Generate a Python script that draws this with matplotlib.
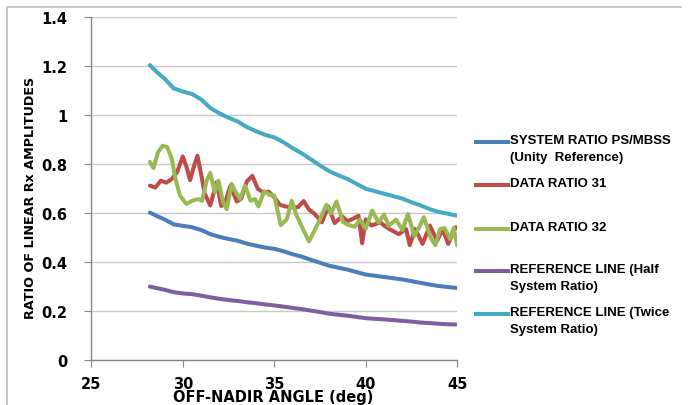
import matplotlib
matplotlib.use("Agg")
import matplotlib.pyplot as plt
from matplotlib.lines import Line2D

# values
sys_x = [28.2, 28.6, 29.0, 29.5, 30.0, 30.5, 31.0, 31.5, 32.0, 32.5, 33.0, 33.5,
         34.0, 34.5, 35.0, 35.5, 36.0, 36.5, 37.0, 37.5, 38.0, 38.5, 39.0, 39.5,
         40.0, 40.5, 41.0, 41.5, 42.0, 42.5, 43.0, 43.5, 44.0, 44.5, 45.0]
system_ratio = [0.603, 0.588, 0.575, 0.555, 0.549, 0.543, 0.532, 0.515, 0.504, 0.495,
                0.488, 0.476, 0.468, 0.460, 0.455, 0.445, 0.433, 0.423, 0.410, 0.398,
                0.386, 0.378, 0.370, 0.360, 0.350, 0.345, 0.340, 0.335, 0.330, 0.323,
                0.316, 0.309, 0.303, 0.299, 0.295]
ref_half = [0.301, 0.294, 0.288, 0.278, 0.273, 0.270, 0.264, 0.257, 0.251, 0.246,
            0.242, 0.237, 0.233, 0.228, 0.224, 0.219, 0.214, 0.209, 0.203, 0.197,
            0.190, 0.186, 0.182, 0.177, 0.172, 0.169, 0.167, 0.164, 0.161, 0.158,
            0.154, 0.152, 0.149, 0.147, 0.146]
ref_twice = [1.205, 1.175, 1.150, 1.110, 1.097, 1.087, 1.065, 1.030, 1.008, 0.990,
             0.975, 0.952, 0.935, 0.920, 0.910, 0.890, 0.866, 0.845, 0.820, 0.795,
             0.772, 0.755, 0.740, 0.720, 0.700, 0.690, 0.680, 0.670, 0.660, 0.645,
             0.632, 0.617, 0.605, 0.598, 0.590]

d31_x = [28.2, 28.5, 28.8, 29.1, 29.4, 29.7, 30.0, 30.2, 30.4, 30.6, 30.8, 31.0,
         31.2, 31.5, 31.85, 32.1, 32.3, 32.6, 32.95, 33.2, 33.5, 33.8, 34.1, 34.4,
         34.7, 35.0, 35.3, 35.6, 35.9, 36.3, 36.6, 36.9, 37.2, 37.6, 37.95, 38.3,
         38.7, 39.0, 39.3, 39.6, 39.8, 40.0, 40.3, 40.8, 41.0, 41.3, 41.8, 42.2,
         42.4, 42.7, 43.1, 43.5, 43.9, 44.2, 44.5, 44.9, 45.0]
data_31 = [0.713, 0.705, 0.733, 0.725, 0.740, 0.770, 0.832, 0.790, 0.735, 0.790,
           0.835, 0.760, 0.680, 0.632, 0.727, 0.630, 0.640, 0.713, 0.648, 0.660,
           0.730, 0.753, 0.700, 0.685, 0.688, 0.665, 0.635, 0.628, 0.625, 0.625,
           0.650, 0.615, 0.598, 0.563, 0.628, 0.560, 0.588, 0.568, 0.578, 0.590,
           0.478, 0.575, 0.550, 0.563, 0.550, 0.535, 0.515, 0.536, 0.470, 0.536,
           0.475, 0.550, 0.488, 0.536, 0.475, 0.543, 0.540]

d32_x = [28.2, 28.4, 28.65, 28.9, 29.15, 29.4, 29.6, 29.85, 30.2, 30.5, 30.85, 31.05,
         31.3, 31.5, 31.75, 31.95, 32.2, 32.4, 32.67, 32.85, 33.13, 33.4, 33.7, 33.95,
         34.13, 34.45, 34.75, 35.0, 35.35, 35.68, 35.95, 36.2, 36.6, 36.9, 37.2, 37.5,
         37.85, 38.1, 38.4, 38.75, 39.05, 39.4, 39.68, 40.0, 40.35, 40.7, 41.0, 41.25,
         41.65, 42.0, 42.3, 42.65, 42.9, 43.17, 43.55, 43.8, 44.05, 44.3, 44.6, 44.8, 45.0]
data_32 = [0.810, 0.785, 0.850, 0.876, 0.870, 0.822, 0.740, 0.672, 0.638, 0.651,
           0.658, 0.651, 0.733, 0.765, 0.686, 0.733, 0.645, 0.617, 0.720, 0.692,
           0.658, 0.713, 0.651, 0.658, 0.628, 0.690, 0.675, 0.672, 0.552, 0.575,
           0.651, 0.595, 0.530, 0.485, 0.530, 0.577, 0.635, 0.600, 0.648, 0.565,
           0.552, 0.545, 0.575, 0.538, 0.611, 0.562, 0.595, 0.549, 0.574, 0.532,
           0.597, 0.508, 0.540, 0.584, 0.500, 0.470, 0.535, 0.540, 0.495, 0.540, 0.468]

labels = ["SYSTEM RATIO PS/MBSS\n(Unity  Reference)", "DATA RATIO 31", "DATA RATIO 32",
          "REFERENCE LINE (Half\nSystem Ratio)", "REFERENCE LINE (Twice\nSystem Ratio)"]
colors = ["#4A7EBB", "#BE4B48", "#98B954", "#7D60A0", "#46AAC5"]

x_ticks = [25, 30, 35, 40, 45]
y_ticks = [0, 0.2, 0.4, 0.6, 0.8, 1.0, 1.2, 1.4]
y_tick_labels = ["0", "0.2", "0.4", "0.6", "0.8", "1", "1.2", "1.4"]

plt.rcParams['font.family'] = ['DejaVu Sans']
W, H = 688, 406
fig = plt.figure(figsize=(W / 100, H / 100), dpi=100)
ax = fig.add_axes([91.3 / W, 1 - 361.3 / H, 366 / W, 343 / H])

series = [(sys_x, system_ratio), (d31_x, data_31), (d32_x, data_32),
          (sys_x, ref_half), (sys_x, ref_twice)]
for (xs, ys), c in zip(series, colors):
    ax.plot(xs, ys, color=c, linewidth=2.9, solid_capstyle="round", solid_joinstyle="round")

ax.set_xlim(25, 45)
ax.set_ylim(0, 1.4)
ax.set_xticks(x_ticks)
ax.set_yticks(y_ticks)
ax.set_yticklabels(y_tick_labels)
for t in ax.get_xticklabels() + ax.get_yticklabels():
    t.set_fontweight("bold")
    t.set_fontsize(10.5)
ax.tick_params(axis="x", length=5, color="#868686", pad=6)
ax.tick_params(axis="y", length=5, color="#868686", pad=12)
ax.grid(True, axis="y", color="#C8C8C8", linewidth=1)
ax.set_axisbelow(True)
for s in ["top", "right"]:
    ax.spines[s].set_visible(False)
for s in ["left", "bottom"]:
    ax.spines[s].set_color("#868686")
    ax.spines[s].set_linewidth(1)

fig.text(273 / W, 1 - 398 / H, "OFF-NADIR ANGLE (deg)", ha="center", va="center",
         fontsize=10.5, fontweight="bold")
fig.text(31 / W, 1 - 198 / H, "RATIO OF LINEAR Rx AMPLITUDES", ha="center", va="center",
         rotation=90, fontsize=9.2, fontweight="bold")

# legend drawn by hand so the handles sit on the first text line
leg_y = [143, 186, 230, 272, 315]
for lab, c, y in zip(labels, colors, leg_y):
    fig.lines.append(Line2D([476 / W, 508 / W], [1 - y / H, 1 - y / H], color=c,
                            linewidth=2.9, transform=fig.transFigure))
    fig.text(510 / W, 1 - (y - 8) / H, lab, ha="left", va="top", fontsize=9.5,
             fontweight="bold", family=["Liberation Sans", "DejaVu Sans"], linespacing=1.55)

# thin frame around the chart area
fig.lines.append(Line2D([7 / W, 7 / W, 681 / W], [0, 1 - 8 / H, 1 - 8 / H],
                        color="#BEBEBE", linewidth=1.2, transform=fig.transFigure))

fig.savefig("out.png", dpi=100)
